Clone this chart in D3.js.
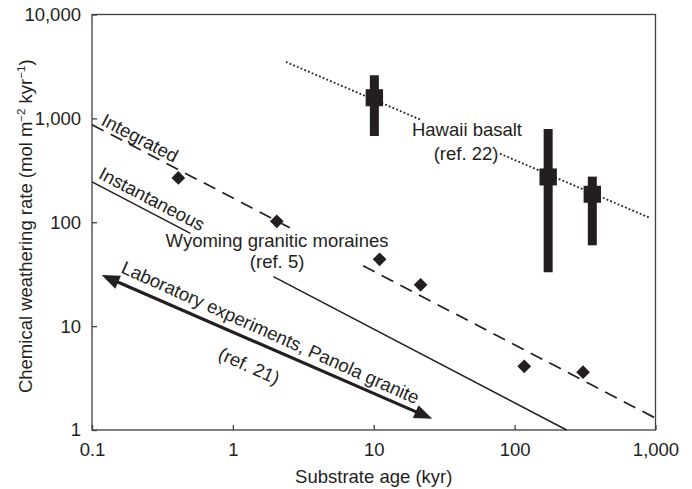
<!DOCTYPE html>
<html>
  <head>
    <meta charset="utf-8" />
    <title>Weathering rate vs substrate age</title>
    <script src="https://d3js.org/d3.v7.min.js"></script>
    <style>
      body {
        margin: 0;
        background: #fff;
      }
      svg {
        font-family: "Liberation Sans", Arial, sans-serif;
      }
      text {
        fill: #231f20;
      }
    </style>
  </head>
  <body>
    <svg width="692" height="489"></svg>

    <script>
      // ticks
      const xTicks = [0.1, 1, 10, 100, 1000];
      const xTickLabels = ["0.1", "1", "10", "100", "1,000"];
      const yTicks = [1, 10, 100, 1000, 10000];
      const yTickLabels = ["1", "10", "100", "1,000", "10,000"];

      // Wyoming granitic moraines (diamonds)
      const wyomingAge = [0.41, 2.05, 11, 21.5, 117, 306];
      const wyomingRate = [267, 102, 44, 25, 4.1, 3.6];

      // Hawaii basalt (bars)
      const hawaiiAge = [10.1, 173, 356];
      const hawaiiRate = [1580, 273, 186];
      const hawaiiHigh = [2600, 790, 275];
      const hawaiiLow = [677, 33, 60];

      // fitted lines: [start, end] and the gap left for the labels (in kyr)
      const integratedFit = [[0.1, 870], [1000, 1.3]];
      const integratedGap = [2.67, 8.4];
      const instantFit = [[0.1, 245], [234, 1]];
      const instantGap = [0.5, 1.94];
      const hawaiiFit = [[2.38, 3490], [914, 110]];
      const hawaiiGap = [21.9, 78.7];
      const labRange = [[0.117, 31], [26, 1.28]];

      const svg = d3.select("svg");
      const x = d3.scaleLog().domain([0.1, 1000]).range([92, 655.5]);
      const y = d3.scaleLog().domain([1, 10000]).range([430, 14.5]);
      const ink = "#231f20";
      const fs = 18.5;

      // y on a straight log-log line at age a
      function onLine(fit, a) {
        const [[x0, y0], [x1, y1]] = fit;
        const t = (Math.log(a) - Math.log(x0)) / (Math.log(x1) - Math.log(x0));
        return Math.exp(Math.log(y0) + t * (Math.log(y1) - Math.log(y0)));
      }
      function segments(fit, gap) {
        const a0 = fit[0][0], a1 = fit[1][0];
        return [[a0, gap[0]], [gap[1], a1]].map(([s, e]) => [[s, onLine(fit, s)], [e, onLine(fit, e)]]);
      }
      function angleOf(fit) {
        const dx = x(fit[1][0]) - x(fit[0][0]);
        const dy = y(fit[1][1]) - y(fit[0][1]);
        return Math.atan2(dy, dx) * 180 / Math.PI;
      }
      const line = d3.line().x(d => x(d[0])).y(d => y(d[1]));

      // frame
      const frame = svg.append("g").attr("stroke", "#3f3f41").attr("stroke-width", 1.3).attr("fill", "none");
      frame.append("rect")
        .attr("x", x(0.1)).attr("y", y(10000))
        .attr("width", x(1000) - x(0.1)).attr("height", y(1) - y(10000));

      // axes (ticks inward)
      const xAxis = svg.append("g").attr("transform", `translate(0,${y(1)})`)
        .call(d3.axisBottom(x).tickValues(xTicks).tickSizeInner(-5).tickSizeOuter(0).tickPadding(13)
          .tickFormat((d, i) => xTickLabels[i]));
      const yAxis = svg.append("g").attr("transform", `translate(${x(0.1)},0)`)
        .call(d3.axisLeft(y).tickValues(yTicks).tickSizeInner(-5).tickSizeOuter(0).tickPadding(11)
          .tickFormat((d, i) => yTickLabels[i]));
      [xAxis, yAxis].forEach(ax => {
        ax.select(".domain").remove();
        ax.selectAll("line").attr("stroke", "#3f3f41").attr("stroke-width", 1.3);
        ax.selectAll("text").attr("font-size", fs).attr("font-family", "Liberation Sans, Arial, sans-serif").attr("fill", ink);
      });
      xAxis.selectAll("text").attr("dy", "0.71em");

      // axis titles
      svg.append("text")
        .attr("x", (x(0.1) + x(1000)) / 2).attr("y", 483)
        .attr("text-anchor", "middle").attr("font-size", fs)
        .text("Substrate age (kyr)");

      const yt = svg.append("text")
        .attr("transform", `translate(32,${(y(1) + y(10000)) / 2 + 4}) rotate(-90)`)
        .attr("text-anchor", "middle").attr("font-size", fs);
      yt.append("tspan").text("Chemical weathering rate (mol m");
      yt.append("tspan").attr("font-size", 11.5).attr("dy", -7).text("\u22122");
      yt.append("tspan").attr("dy", 7).text(" kyr");
      yt.append("tspan").attr("font-size", 11.5).attr("dy", -7).text("\u22121");
      yt.append("tspan").attr("dy", 7).text(")");

      // fitted lines
      const plot = svg.append("g").attr("fill", "none").attr("stroke", ink);
      segments(integratedFit, integratedGap).forEach(s => {
        plot.append("path").attr("d", line(s)).attr("stroke-width", 1.7).attr("stroke-dasharray", "13,8");
      });
      segments(instantFit, instantGap).forEach(s => {
        plot.append("path").attr("d", line(s)).attr("stroke-width", 1.5);
      });
      segments(hawaiiFit, hawaiiGap).forEach(s => {
        plot.append("path").attr("d", line(s)).attr("stroke-width", 1.8).attr("stroke-dasharray", "1.8,2.2");
      });

      // laboratory arrow (double headed)
      const p0 = [x(labRange[0][0]), y(labRange[0][1])];
      const p1 = [x(labRange[1][0]), y(labRange[1][1])];
      const ang = Math.atan2(p1[1] - p0[1], p1[0] - p0[0]);
      const ux = Math.cos(ang), uy = Math.sin(ang);
      const headL = 18, headW = 7;
      svg.append("line")
        .attr("x1", p0[0] + ux * headL * 0.8).attr("y1", p0[1] + uy * headL * 0.8)
        .attr("x2", p1[0] - ux * headL * 0.8).attr("y2", p1[1] - uy * headL * 0.8)
        .attr("stroke", ink).attr("stroke-width", 3.2);
      [[p0, 1], [p1, -1]].forEach(([p, dir]) => {
        const bx = p[0] + dir * ux * headL, by = p[1] + dir * uy * headL;
        svg.append("path")
          .attr("d", `M${p[0]},${p[1]} L${bx - uy * headW},${by + ux * headW} L${bx + uy * headW},${by - ux * headW} Z`)
          .attr("fill", ink);
      });

      // Hawaii bars
      const hawaii = hawaiiAge.map((a, i) => ({ age: a, rate: hawaiiRate[i], hi: hawaiiHigh[i], lo: hawaiiLow[i] }));
      const hb = svg.append("g").attr("fill", ink);
      hb.selectAll(".whisker").data(hawaii).enter().append("rect")
        .attr("x", d => x(d.age) - 4.5).attr("width", 9)
        .attr("y", d => y(d.hi)).attr("height", d => y(d.lo) - y(d.hi));
      hb.selectAll(".box").data(hawaii).enter().append("rect")
        .attr("x", d => x(d.age) - 8.7).attr("width", 17.4)
        .attr("y", d => y(d.rate) - 8.5).attr("height", 17);

      // Wyoming diamonds
      const wyoming = wyomingAge.map((a, i) => ({ age: a, rate: wyomingRate[i] }));
      svg.append("g").selectAll("path").data(wyoming).enter().append("path")
        .attr("d", d3.symbol().type(d3.symbolDiamond2).size(120))
        .attr("transform", d => `translate(${x(d.age)},${y(d.rate)})`)
        .attr("fill", ink);

      // labels
      const labels = [
        { text: "Integrated", at: [0.114, 875], rot: angleOf(integratedFit), anchor: "start" },
        { text: "Instantaneous", at: [0.1094, 268], rot: angleOf(instantFit), anchor: "start" },
        { text: "Laboratory experiments, Panola granite", at: [0.158, 33], rot: angleOf(labRange) + 0.6, anchor: "start" },
        { text: "(ref. 21)", at: [0.771, 4.88], rot: angleOf(labRange) + 0.6, anchor: "start" },
        { text: "Wyoming granitic moraines", at: [2.06, 57.8], rot: 0, anchor: "middle" },
        { text: "(ref. 5)", at: [2.06, 36.3], rot: 0, anchor: "middle" },
        { text: "Hawaii basalt", at: [45.9, 677], rot: 0, anchor: "middle" },
        { text: "(ref. 22)", at: [45.2, 397], rot: 0, anchor: "middle" }
      ];
      svg.append("g").selectAll("text").data(labels).enter().append("text")
        .attr("transform", d => `translate(${x(d.at[0])},${y(d.at[1])}) rotate(${d.rot})`)
        .attr("text-anchor", d => d.anchor)
        .attr("font-size", fs)
        .text(d => d.text);
    </script>
  </body>
</html>
